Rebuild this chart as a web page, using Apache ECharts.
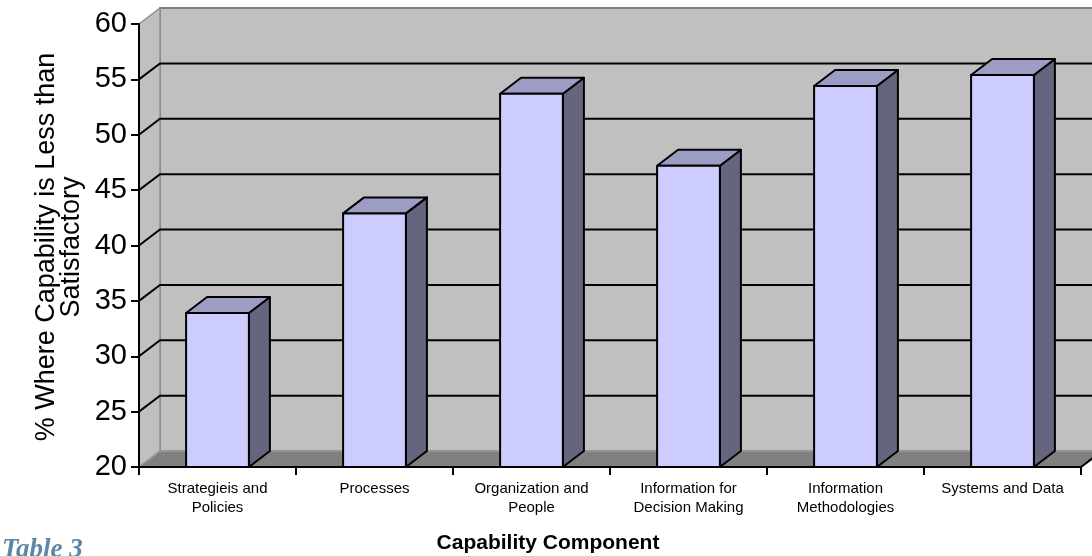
<!DOCTYPE html>
<html>
<head>
<meta charset="utf-8">
<script src="https://cdn.jsdelivr.net/npm/echarts@6/dist/echarts.min.js"></script>
<style>
  html, body { margin: 0; padding: 0; background: #ffffff; }
  #chart { width: 1092px; height: 556px; }
</style>
</head>
<body>
<div id="chart"></div>
<script>
// Capability components and the share (%) where capability is less than satisfactory
const categories = [
  'Strategieis and\nPolicies',
  'Processes',
  'Organization and\nPeople',
  'Information for\nDecision Making',
  'Information\nMethodologies',
  'Systems and Data'
];
const values = [33.9, 42.9, 53.7, 47.2, 54.4, 55.4];
const yTicks = [20, 25, 30, 35, 40, 45, 50, 55, 60];

// Oblique depth of the 3-D box (pixels)
const DX = 21, DY = -16;
const FONT = '"Liberation Sans", Arial, sans-serif';

const chart = echarts.init(document.getElementById('chart'), null, { renderer: 'canvas' });

// Walls, floor and gridlines of the 3-D plot area
function renderWalls(params, api) {
  const cs = params.coordSys;
  const x0 = cs.x, x1 = cs.x + cs.width;
  const yMin = yTicks[0], yMax = yTicks[yTicks.length - 1];
  const yb = api.coord([0, yMin])[1];
  const yt = api.coord([0, yMax])[1];
  const children = [];
  // back wall
  children.push({
    type: 'rect',
    shape: { x: x0 + DX, y: yt + DY, width: cs.width, height: yb - yt },
    style: { fill: '#c0c0c0', stroke: '#808080', lineWidth: 2 }
  });
  // left side wall
  children.push({
    type: 'polygon',
    shape: { points: [[x0, yt], [x0 + DX, yt + DY], [x0 + DX, yb + DY], [x0, yb]] },
    style: { fill: '#c0c0c0', stroke: '#909090', lineWidth: 1.5 }
  });
  // floor
  children.push({
    type: 'polygon',
    shape: { points: [[x0, yb], [x1, yb], [x1 + DX, yb + DY], [x0 + DX, yb + DY]] },
    style: { fill: '#808080', stroke: '#9a9a9a', lineWidth: 1.5 }
  });
  // right edge of the floor
  children.push({
    type: 'line',
    shape: { x1: x1, y1: yb, x2: x1 + DX, y2: yb + DY },
    style: { stroke: '#000', lineWidth: 2 }
  });
  // gridlines on back and side walls
  yTicks.forEach(function (v) {
    if (v === yMin || v === yMax) return;
    const y = api.coord([0, v])[1];
    children.push({
      type: 'polyline',
      shape: { points: [[x0, y], [x0 + DX, y + DY], [x1 + DX + 20, y + DY]] },
      style: { stroke: '#000', lineWidth: 2, fill: null }
    });
  });
  return { type: 'group', children: children };
}

// One 3-D column: front face, top and right side
function renderBar(params, api) {
  const idx = api.value(0);
  const val = api.value(1);
  const bw = api.size([1, 0])[0] * 0.4;
  const c = api.coord([idx, yTicks[0]]);
  const t = api.coord([idx, val]);
  const xl = c[0] - bw / 2, xr = c[0] + bw / 2;
  const yb = c[1], yt = t[1];
  const line = { stroke: '#000', lineWidth: 2, lineJoin: 'round' };
  return {
    type: 'group',
    children: [
      {
        type: 'polygon',
        shape: { points: [[xr, yt], [xr + DX, yt + DY], [xr + DX, yb + DY], [xr, yb]] },
        style: Object.assign({ fill: '#65657f' }, line)
      },
      {
        type: 'polygon',
        shape: { points: [[xl, yt], [xl + DX, yt + DY], [xr + DX, yt + DY], [xr, yt]] },
        style: Object.assign({ fill: '#9c9cc4' }, line)
      },
      {
        type: 'rect',
        shape: { x: xl, y: yt, width: bw, height: yb - yt },
        style: Object.assign({ fill: '#ccccff' }, line)
      }
    ]
  };
}

const option = {
  backgroundColor: '#ffffff',
  animation: false,
  grid: { left: 139, right: 11, top: 24, bottom: 89, containLabel: false },
  xAxis: {
    type: 'category',
    data: categories,
    boundaryGap: true,
    axisLine: { show: true, lineStyle: { color: '#000', width: 2 } },
    axisTick: { show: true, interval: 0, length: 8, lineStyle: { color: '#000', width: 2 } },
    axisLabel: {
      interval: 0, margin: 12, color: '#000',
      fontFamily: FONT, fontSize: 15, lineHeight: 19
    },
    splitLine: { show: false },
    z: 3
  },
  yAxis: {
    type: 'value',
    min: yTicks[0],
    max: yTicks[yTicks.length - 1],
    interval: yTicks[1] - yTicks[0],
    axisLine: { show: true, lineStyle: { color: '#000', width: 2 } },
    axisTick: { show: true, length: 8, lineStyle: { color: '#000', width: 2 } },
    axisLabel: { margin: 12, color: '#000', fontFamily: FONT, fontSize: 29 },
    splitLine: { show: false },
    z: 3
  },
  graphic: [
    {
      type: 'text',
      x: 59, y: 247,
      rotation: Math.PI / 2,
      style: {
        text: '% Where Capability is Less than\nSatisfactory',
        fontFamily: FONT, fontSize: 27, lineHeight: 25,
        fill: '#000', align: 'center', verticalAlign: 'middle'
      }
    },
    {
      type: 'text',
      x: 548, y: 543,
      style: {
        text: 'Capability Component',
        fontFamily: FONT, fontSize: 21, fontWeight: 'bold',
        fill: '#000', align: 'center', verticalAlign: 'middle'
      }
    },
    {
      type: 'text',
      x: 2, y: 537,
      style: {
        text: 'Table 3',
        fontFamily: '"Liberation Serif", "DejaVu Serif", serif',
        fontSize: 27, fontWeight: 'bold', fontStyle: 'italic',
        fill: '#5b87a8', align: 'left', verticalAlign: 'top'
      }
    }
  ],
  series: [
    {
      type: 'custom',
      name: 'walls',
      coordinateSystem: 'cartesian2d',
      renderItem: renderWalls,
      data: [[0, yTicks[0]]],
      silent: true,
      z: 0
    },
    {
      type: 'custom',
      name: 'capability',
      coordinateSystem: 'cartesian2d',
      renderItem: renderBar,
      data: values.map(function (v, i) { return [i, v]; }),
      z: 5
    }
  ]
};

chart.setOption(option);
</script>
</body>
</html>
